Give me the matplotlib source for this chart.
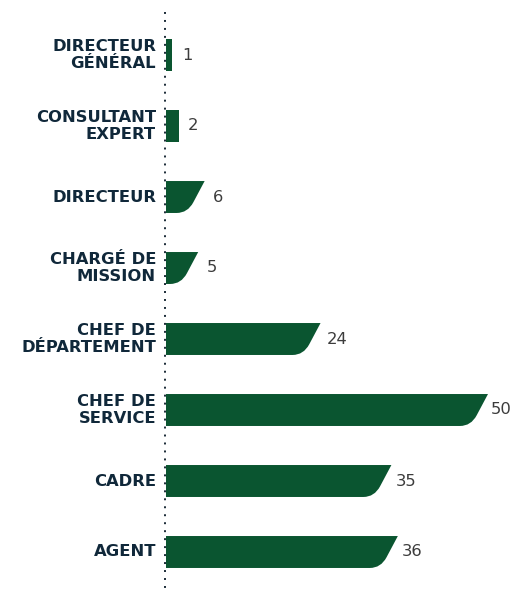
import matplotlib.pyplot as plt
from matplotlib.path import Path
from matplotlib.patches import PathPatch

categories = ["DIRECTEUR\nGÉNÉRAL", "CONSULTANT\nEXPERT", "DIRECTEUR", "CHARGÉ DE\nMISSION",
              "CHEF DE\nDÉPARTEMENT", "CHEF DE\nSERVICE", "CADRE", "AGENT"]
values = [1, 2, 6, 5, 24, 50, 35, 36]

bar_color = "#0a5530"
label_color = "#10283a"

W, H = 517, 589
fig = plt.figure(figsize=(W / 100, H / 100), dpi=100)

# axes spans from the baseline to the right edge, full height
x0 = 166
px_per_unit = 6.44
ax = fig.add_axes([x0 / W, 0, 1 - x0 / W, 1])
ax.set_xlim(0, (W - x0) / px_per_unit)
row_px = 71
first_px = 55
ax.set_ylim((H - first_px) / row_px, -first_px / row_px)
ax.axis("off")

bar_h = 0.45
slant = 17 / px_per_unit       # horizontal run of the right edge
rad_x = 11 / px_per_unit       # rounding at the bottom corner
rad_y = 0.15

for i, v in enumerate(values):
    top, bot = i - bar_h / 2, i + bar_h / 2
    if v * px_per_unit > 25:
        # top edge runs to the value, right edge slants back with a rounded foot
        fx = rad_y / bar_h * slant
        verts = [(0, top), (v, top),
                 (v - slant + fx, bot - rad_y),
                 (v - slant, bot), (v - slant - rad_x, bot),
                 (0, bot), (0, top)]
        codes = [Path.MOVETO, Path.LINETO, Path.LINETO,
                 Path.CURVE3, Path.CURVE3, Path.LINETO, Path.CLOSEPOLY]
    else:
        verts = [(0, top), (v, top), (v, bot), (0, bot), (0, top)]
        codes = [Path.MOVETO, Path.LINETO, Path.LINETO, Path.LINETO, Path.CLOSEPOLY]
    ax.add_patch(PathPatch(Path(verts, codes), facecolor=bar_color, edgecolor="none"))

    # value labels sit a little past the bar end
    ax.text(0.978 * v + 9.5 / px_per_unit, i, str(v), ha="left", va="center",
            fontsize=11.8, color="#3c3c3c", family="DejaVu Sans")
    ax.text(-10 / px_per_unit, i, categories[i], ha="right", va="center",
            fontsize=11.8, fontweight="heavy", color=label_color,
            linespacing=1.12, family="DejaVu Sans")

# dotted baseline
ax.plot([-1 / px_per_unit, -1 / px_per_unit], [-(first_px - 12) / row_px, (H - first_px) / row_px],
        color="#1a2a36", linestyle=(0, (1, 3.1)), linewidth=1.4, clip_on=False)

fig.savefig("out.png", dpi=100, facecolor="white")
